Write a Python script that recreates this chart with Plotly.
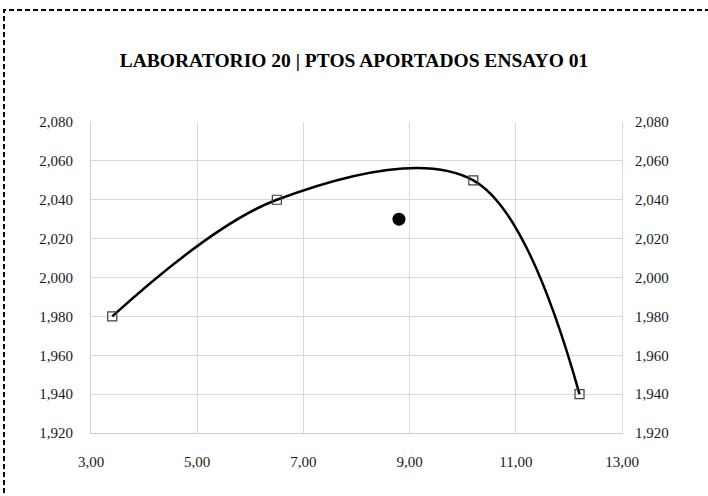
import plotly.graph_objects as go

x_vals = [3.4, 6.5, 10.2, 12.2]
y_vals = [1.980, 2.040, 2.050, 1.940]
pt_x = [8.8]
pt_y = [2.030]
x_ticks = [3, 5, 7, 9, 11, 13]
x_tick_text = ["3,00", "5,00", "7,00", "9,00", "11,00", "13,00"]
y_ticks = [1.92, 1.94, 1.96, 1.98, 2.00, 2.02, 2.04, 2.06, 2.08]
y_tick_text = ["1,920", "1,940", "1,960", "1,980", "2,000", "2,020", "2,040", "2,060", "2,080"]
title = "LABORATORIO 20 | PTOS APORTADOS ENSAYO 01"

font_family = "Liberation Serif"
W, H = 708, 496
L, R, T, B = 91, 86, 122, 63
PW, PH = W - L - R, H - T - B

fig = go.Figure()
fig.add_trace(go.Scatter(
    x=x_vals, y=y_vals, mode="lines+markers",
    line=dict(color="black", width=2.5, shape="spline", smoothing=1.0),
    marker=dict(symbol="square-open", size=9, color="#404040", line=dict(width=1.2)),
    showlegend=False,
))
fig.add_trace(go.Scatter(
    x=pt_x, y=pt_y, mode="markers",
    marker=dict(symbol="circle", size=13, color="black"),
    showlegend=False,
))
fig.add_trace(go.Scatter(x=[3], y=[2.0], yaxis="y2", mode="markers",
                         marker=dict(opacity=0), showlegend=False, hoverinfo="skip"))

axis_font = dict(family=font_family, size=15, color="#1a1a1a")
fig.update_layout(
    width=W, height=H,
    margin=dict(l=L, r=R, t=T, b=B),
    paper_bgcolor="white", plot_bgcolor="white",
    title=dict(text="<b>" + title + "</b>", x=354 / W, xanchor="center",
               y=1 - 60 / H, yanchor="middle",
               font=dict(family=font_family, size=19.5, color="black")),
    xaxis=dict(range=[3, 13], tickvals=x_ticks, ticktext=x_tick_text,
               showgrid=True, gridcolor="#d9d9d9", gridwidth=1,
               showline=True, linecolor="#d0d0d0", linewidth=1,
               zeroline=False, ticks="", tickfont=axis_font, ticklabelstandoff=15),
    yaxis=dict(range=[1.92, 2.08], tickvals=y_ticks, ticktext=y_tick_text,
               showgrid=True, gridcolor="#d9d9d9", gridwidth=1,
               showline=True, linecolor="#d0d0d0", linewidth=1,
               zeroline=False, ticks="", tickfont=axis_font, ticklabelstandoff=14),
    yaxis2=dict(range=[1.92, 2.08], tickvals=y_ticks, ticktext=y_tick_text,
                overlaying="y", side="right", showgrid=False,
                showline=True, linecolor="#d9d9d9", zeroline=False, ticks="",
                tickfont=axis_font, ticklabelstandoff=9),
    shapes=[dict(type="rect", xref="paper", yref="paper",
                 x0=(4 - L) / PW, x1=(W + 20 - L) / PW,
                 y0=-(B + 20) / PH, y1=(H - B - 10) / PH,
                 line=dict(color="black", width=2, dash="5px,3px"), layer="above")],
)
fig.write_html("out.html", config={"displayModeBar": False},
               post_script="document.body.style.margin='0';")
